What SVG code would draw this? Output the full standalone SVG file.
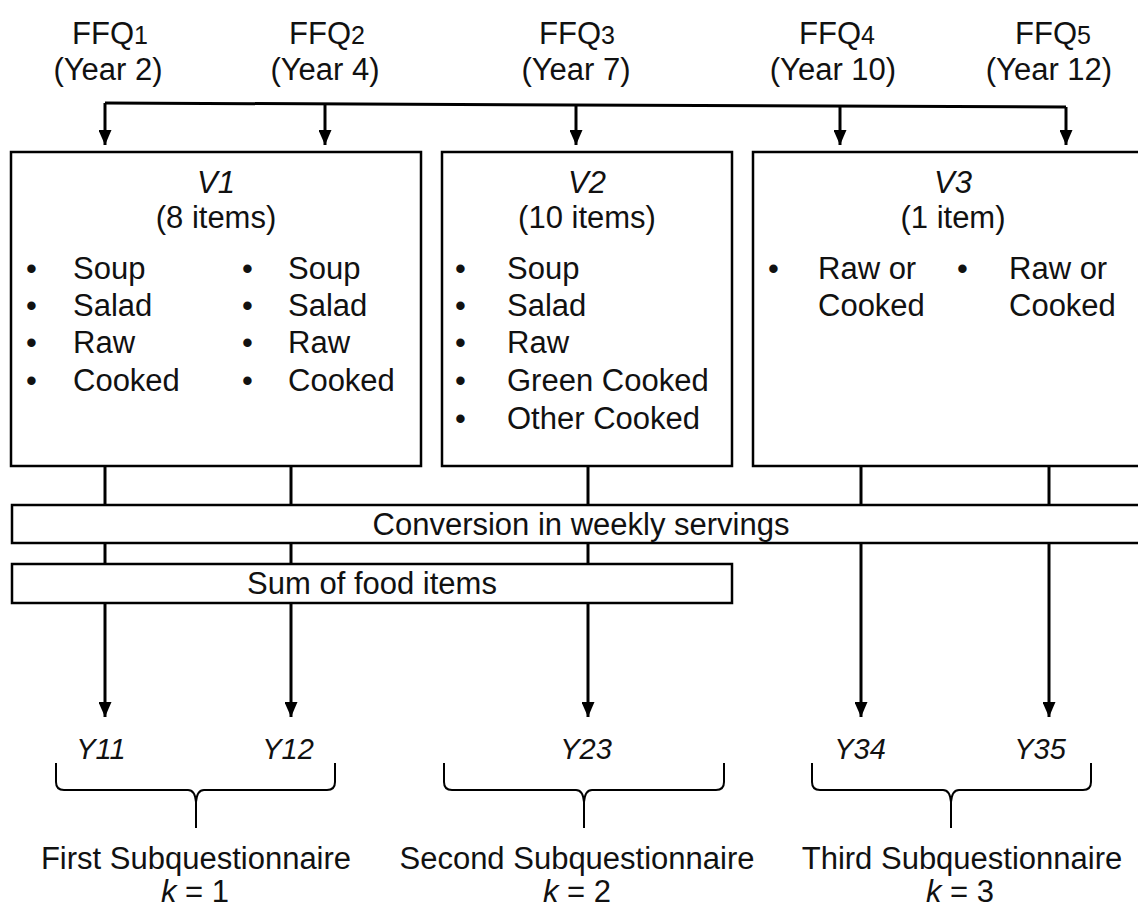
<svg xmlns="http://www.w3.org/2000/svg" width="1138" height="907" viewBox="0 0 1138 907">
<defs>
<marker id="arr" markerUnits="userSpaceOnUse" markerWidth="15" markerHeight="13" viewBox="0 0 15 13" refX="15" refY="6.5" orient="auto">
<path d="M0,0 L15,6.5 L0,13 Z" fill="#000"/>
</marker>
<style>
text{font-family:"Liberation Sans",Arial,sans-serif;font-size:31px;fill:#111}
.c{text-anchor:middle}
.i{font-style:italic}
.y{font-size:29px;font-style:italic;text-anchor:middle}
.sub{font-size:25px}
.box{fill:#fff;stroke:#000;stroke-width:2.5}
.ln{fill:none;stroke:#000;stroke-width:3}
.ar{fill:none;stroke:#000;stroke-width:3}
.br{fill:none;stroke:#000;stroke-width:2}
</style>
</defs>
<rect width="1138" height="907" fill="#fff"/>

<g id="labels-top">
<text class="c" x="110" y="44">FFQ<tspan class="sub">1</tspan></text>
<text class="c" x="108" y="80">(Year 2)</text>
<text class="c" x="327" y="44">FFQ<tspan class="sub">2</tspan></text>
<text class="c" x="325" y="80">(Year 4)</text>
<text class="c" x="577" y="44">FFQ<tspan class="sub">3</tspan></text>
<text class="c" x="576" y="80">(Year 7)</text>
<text class="c" x="837" y="44">FFQ<tspan class="sub">4</tspan></text>
<text class="c" x="833" y="80">(Year 10)</text>
<text class="c" x="1053" y="44">FFQ<tspan class="sub">5</tspan></text>
<text class="c" x="1049" y="80">(Year 12)</text>
</g>

<g id="connectors">
<path class="ln" d="M105,103 L1066,107"/>
<line class="ar" x1="105" y1="103" x2="105" y2="145" marker-end="url(#arr)"/>
<line class="ar" x1="325" y1="104" x2="325" y2="145" marker-end="url(#arr)"/>
<line class="ar" x1="576" y1="105" x2="576" y2="145" marker-end="url(#arr)"/>
<line class="ar" x1="840" y1="106" x2="840" y2="145" marker-end="url(#arr)"/>
<line class="ar" x1="1066" y1="107" x2="1066" y2="145" marker-end="url(#arr)"/>
<line class="ar" x1="105" y1="466" x2="105" y2="717" marker-end="url(#arr)"/>
<line class="ar" x1="291" y1="466" x2="291" y2="717" marker-end="url(#arr)"/>
<line class="ar" x1="588" y1="466" x2="588" y2="717" marker-end="url(#arr)"/>
<line class="ar" x1="861" y1="466" x2="861" y2="717" marker-end="url(#arr)"/>
<line class="ar" x1="1049" y1="466" x2="1049" y2="717" marker-end="url(#arr)"/>
</g>

<g id="v1">
<rect class="box" x="11" y="152" width="410" height="314"/>
<text class="c i" x="216" y="193">V1</text>
<text class="c" x="216" y="228">(8 items)</text>
<text x="26" y="279">•</text><text x="73" y="279">Soup</text>
<text x="26" y="316">•</text><text x="73" y="316">Salad</text>
<text x="26" y="353">•</text><text x="73" y="353">Raw</text>
<text x="26" y="391">•</text><text x="73" y="391">Cooked</text>
<text x="242" y="279">•</text><text x="288" y="279">Soup</text>
<text x="242" y="316">•</text><text x="288" y="316">Salad</text>
<text x="242" y="353">•</text><text x="288" y="353">Raw</text>
<text x="242" y="391">•</text><text x="288" y="391">Cooked</text>
</g>

<g id="v2">
<rect class="box" x="442" y="152" width="290" height="314"/>
<text class="c i" x="587" y="193">V2</text>
<text class="c" x="587" y="228">(10 items)</text>
<text x="455" y="279">•</text><text x="507" y="279">Soup</text>
<text x="455" y="316">•</text><text x="507" y="316">Salad</text>
<text x="455" y="353">•</text><text x="507" y="353">Raw</text>
<text x="455" y="391">•</text><text x="507" y="391">Green Cooked</text>
<text x="455" y="429">•</text><text x="507" y="429">Other Cooked</text>
</g>

<g id="v3">
<rect class="box" x="753" y="152" width="400" height="314"/>
<text class="c i" x="953" y="193">V3</text>
<text class="c" x="953" y="228">(1 item)</text>
<text x="768" y="279">•</text><text x="818" y="279">Raw or</text>
<text x="818" y="316">Cooked</text>
<text x="957" y="279">•</text><text x="1009" y="279">Raw or</text>
<text x="1009" y="316">Cooked</text>
</g>

<g id="conversion">
<rect class="box" x="12" y="505" width="1140" height="38"/>
<text class="c" x="581" y="535">Conversion in weekly servings</text>
</g>

<g id="sum">
<rect class="box" x="12" y="564" width="720" height="39"/>
<text class="c" x="372" y="594">Sum of food items</text>
</g>

<g id="outcomes">
<text class="y" x="101" y="759">Y11</text>
<text class="y" x="288" y="759">Y12</text>
<text class="y" x="586" y="759">Y23</text>
<text class="y" x="860" y="759">Y34</text>
<text class="y" x="1040" y="759">Y35</text>
</g>

<g id="brace1">
<path class="br" d="M56,763 L56,782 Q56,790 64,790 L188,790 Q195,790 196,802 L196,828 M196,802 Q197,790 204,790 L327,790 Q335,790 335,782 L335,763"/>
<text class="c" x="196" y="869">First Subquestionnaire</text>
<text class="c" x="195" y="902"><tspan class="i">k</tspan> = 1</text>
</g>

<g id="brace2">
<path class="br" d="M444,763 L444,782 Q444,790 452,790 L576,790 Q583,790 584,802 L584,828 M584,802 Q585,790 592,790 L716,790 Q724,790 724,782 L724,763"/>
<text class="c" x="577" y="869">Second Subquestionnaire</text>
<text class="c" x="577" y="902"><tspan class="i">k</tspan> = 2</text>
</g>

<g id="brace3">
<path class="br" d="M812,763 L812,782 Q812,790 820,790 L943,790 Q950,790 951,802 L951,828 M951,802 Q952,790 959,790 L1083,790 Q1091,790 1091,782 L1091,763"/>
<text class="c" x="962" y="869">Third Subquestionnaire</text>
<text class="c" x="960" y="902"><tspan class="i">k</tspan> = 3</text>
</g>
</svg>
